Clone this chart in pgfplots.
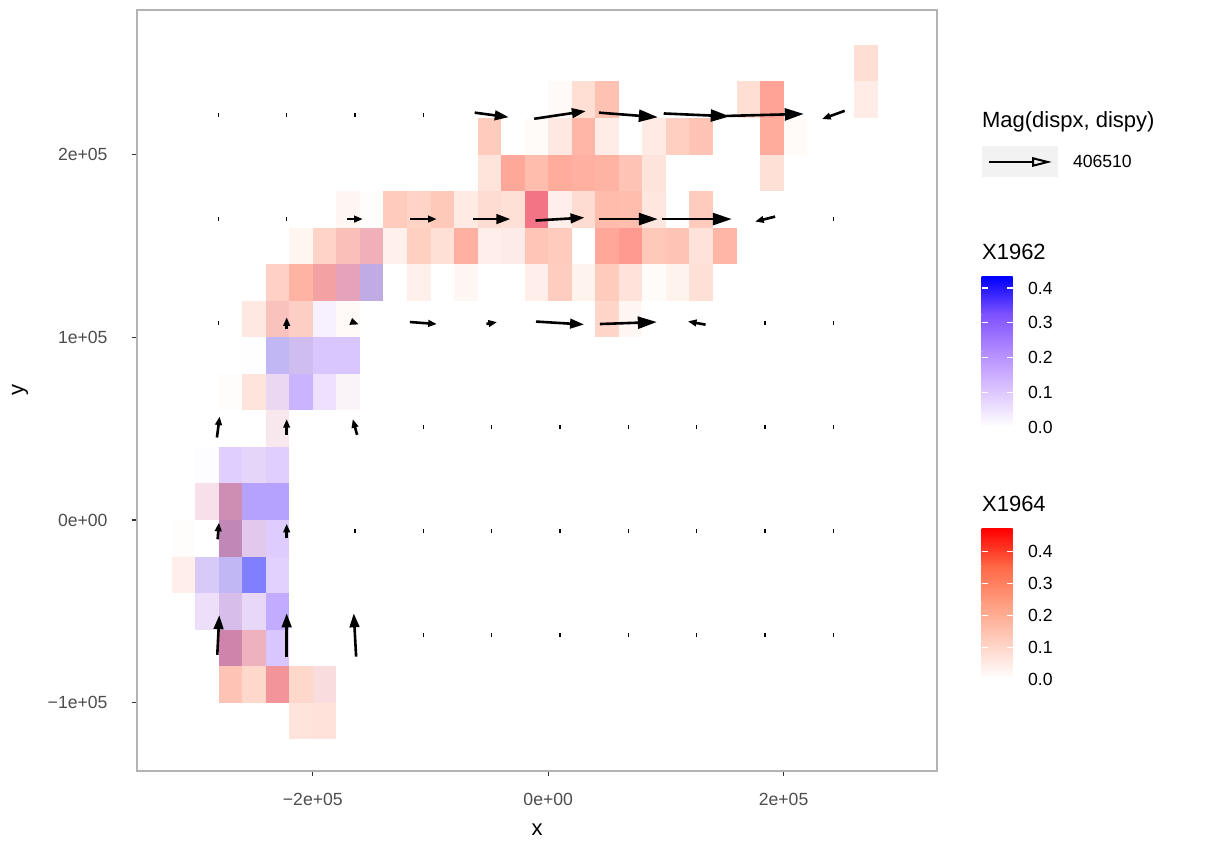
\documentclass[border=0pt]{standalone}
\usepackage{fontspec}
\setmainfont{Liberation Sans}
\usepackage{pgfplots}
\usepackage{pgfplotstable}
\pgfplotsset{compat=1.18}
\usetikzlibrary{arrows.meta}
\definecolor{gray30}{HTML}{4D4D4D}
\definecolor{gray20}{HTML}{333333}
\definecolor{gray70}{HTML}{B3B3B3}
\definecolor{keybg}{HTML}{F2F2F2}
\definecolor{b0}{RGB}{255,255,255}
\definecolor{b1}{RGB}{220,196,255}
\definecolor{b2}{RGB}{179,139,255}
\definecolor{b3}{RGB}{126,82,255}
\definecolor{b4}{RGB}{0,0,255}
\definecolor{r1}{RGB}{255,207,191}
\definecolor{r2}{RGB}{255,158,129}
\definecolor{r3}{RGB}{255,104,70}
\definecolor{r4}{RGB}{255,0,0}
\pgfplotsset{
  colormap={blues}{rgb255=(255,255,255) rgb255=(220,196,255) rgb255=(179,139,255) rgb255=(126,82,255) rgb255=(0,0,255)},
  colormap={reds}{rgb255=(255,255,255) rgb255=(255,207,191) rgb255=(255,158,129) rgb255=(255,104,70) rgb255=(255,0,0)},
  cbar/.style={anchor=south west, scale only axis, width=15.5pt, height=75pt,
    xmin=0, xmax=1, ymin=0, enlargelimits=false,
    axis line style={draw=none}, xtick=\empty, axis on top,
    ytick={0,0.1,0.2,0.3,0.4}, yticklabels={0.0,0.1,0.2,0.3,0.4},
    tick align=inside, ytick pos=both, yticklabel pos=right, major tick length=3.1pt,
    ytick style={draw=white, line width=0.6pt},
    yticklabel style={font=\fontsize{8.8}{10}\selectfont, text=black, xshift=4.2pt}},
}
\pgfdeclareplotmark{tile}{%
  \pgfpathrectangle{\pgfqpoint{-5.885pt}{-9.135pt}}{\pgfqpoint{11.77pt}{18.27pt}}%
  \pgfusepathqfill}

\pgfplotstableread{
x y b
-10000 170000 0.15
-170000 150000 0.05
-150000 150000 0.18
-30000 150000 0.02
-190000 130000 0.14
-170000 130000 0.28
-150000 130000 0.43
-230000 110000 0.06
-210000 110000 0.02
-190000 110000 0.05
-250000 90000 0.005
-230000 90000 0.43
-210000 90000 0.38
-190000 90000 0.21
-170000 90000 0.21
-230000 70000 0.22
-210000 70000 0.28
-190000 70000 0.11
-170000 70000 0.05
-230000 50000 0.08
-290000 30000 0.01
-270000 30000 0.18
-250000 30000 0.27
-230000 30000 0.18
-290000 10000 0.10
-270000 10000 0.38
-250000 10000 0.34
-230000 10000 0.34
-270000 -10000 0.43
-250000 -10000 0.30
-230000 -10000 0.19
-290000 -30000 0.35
-270000 -30000 0.43
-250000 -30000 0.432
-230000 -30000 0.17
-290000 -50000 0.20
-270000 -50000 0.35
-250000 -50000 0.25
-230000 -50000 0.31
-270000 -70000 0.38
-250000 -70000 0.20
-230000 -70000 0.21
-230000 -90000 0.14
-190000 -90000 0.07
}\bluetiles

\pgfplotstableread{
x y r
270000 250000 0.16
10000 230000 0.03
30000 230000 0.16
50000 230000 0.29
170000 230000 0.16
190000 230000 0.39
270000 230000 0.09
-50000 210000 0.25
-10000 210000 0.02
10000 210000 0.11
30000 210000 0.34
50000 210000 0.09
90000 210000 0.10
110000 210000 0.23
130000 210000 0.28
190000 210000 0.37
210000 210000 0.02
-50000 190000 0.13
-30000 190000 0.38
-10000 190000 0.31
10000 190000 0.37
30000 190000 0.36
50000 190000 0.35
70000 190000 0.28
90000 190000 0.13
190000 190000 0.15
-170000 170000 0.04
-150000 170000 0.01
-130000 170000 0.25
-110000 170000 0.21
-90000 170000 0.26
-70000 170000 0.10
-50000 170000 0.17
-30000 170000 0.15
-10000 170000 0.45
10000 170000 0.08
30000 170000 0.17
50000 170000 0.32
70000 170000 0.31
90000 170000 0.12
130000 170000 0.25
-210000 150000 0.05
-190000 150000 0.21
-170000 150000 0.27
-150000 150000 0.26
-130000 150000 0.07
-110000 150000 0.23
-90000 150000 0.15
-70000 150000 0.36
-50000 150000 0.08
-30000 150000 0.08
-10000 150000 0.27
10000 150000 0.25
50000 150000 0.38
70000 150000 0.41
90000 150000 0.26
110000 150000 0.28
130000 150000 0.14
150000 150000 0.34
-230000 130000 0.22
-210000 130000 0.35
-190000 130000 0.35
-170000 130000 0.26
-150000 130000 0.10
-110000 130000 0.07
-70000 130000 0.04
-10000 130000 0.08
10000 130000 0.24
30000 130000 0.06
50000 130000 0.25
70000 130000 0.14
90000 130000 0.02
110000 130000 0.06
130000 130000 0.15
-250000 110000 0.11
-230000 110000 0.25
-210000 110000 0.22
-170000 110000 0.03
50000 110000 0.20
70000 110000 0.04
-230000 90000 0.04
-210000 90000 0.06
-270000 70000 0.01
-250000 70000 0.13
-230000 70000 0.05
-170000 70000 0.02
-230000 50000 0.06
-250000 30000 0.02
-290000 10000 0.08
-270000 10000 0.28
-310000 -10000 0.01
-270000 -10000 0.27
-250000 -10000 0.07
-310000 -30000 0.08
-290000 -30000 0.02
-270000 -30000 0.04
-290000 -50000 0.02
-270000 -50000 0.08
-250000 -50000 0.03
-270000 -70000 0.32
-250000 -70000 0.24
-270000 -90000 0.28
-250000 -90000 0.19
-230000 -90000 0.38
-210000 -90000 0.19
-190000 -90000 0.12
-210000 -110000 0.13
-190000 -110000 0.14
}\redtiles

\pgfplotstableread{
x y u v
68100 221700 50100 -2500
126200 221700 56100 -1600
184300 221700 65700 1100
68100 164700 50100 0
126200 164700 59500 0
68100 107800 48400 1100
}\arrowsL

\pgfplotstableread{
x y u v
-48000 221700 28900 -2500
10050 221700 43900 4200
-48000 164700 31700 0
10050 164700 41600 1600
10050 107800 40800 -1600
-280300 -62940 1700 21700
-222200 -62940 0 23700
-164200 -62940 -2000 23700
}\arrowsM

\pgfplotstableread{
x y u v
242300 221700 -19200 -4500
-164200 164700 13300 0
-106100 164700 22700 0
184300 164700 -17000 -2700
-222200 107800 0 6300
-164200 107800 6500 -1600
-106100 107800 22900 -1100
-48000 107800 9000 1000
126200 107800 -15000 1800
-280300 50900 2300 11500
-222200 50900 0 8600
-164200 50900 -3700 8600
-280300 -6020 1100 9100
-222200 -6020 0 7900
}\arrowsS

\pgfplotstableread{
x y
-280300 221700
-222200 221700
-164200 221700
-106100 221700
-280300 164700
-222200 164700
242300 164700
-280300 107800
184300 107800
242300 107800
-106100 50900
-48000 50900
10050 50900
68100 50900
126200 50900
184300 50900
242300 50900
-164200 -6020
-106100 -6020
-48000 -6020
10050 -6020
68100 -6020
126200 -6020
184300 -6020
242300 -6020
-106100 -62940
-48000 -62940
10050 -62940
68100 -62940
126200 -62940
184300 -62940
242300 -62940
}\dots

\begin{document}
\begin{tikzpicture}
\path (0,0) rectangle (613pt,420.5pt);
\begin{axis}[
  set layers=standard,
  at={(68.5pt,35pt)}, anchor=south west,
  scale only axis, width=400pt, height=380.5pt,
  xmin=-349363, xmax=330331, ymin=-137384, ymax=279146,
  xtick={-200000,0,200000}, xticklabels={−2e+05,0e+00,2e+05},
  ytick={-100000,0,100000,200000}, yticklabels={−1e+05,0e+00,1e+05,2e+05},
  scaled ticks=false,
  axis line style={draw=gray70, line width=0.6pt},
  tick align=outside, major tick length=2.75pt,
  tick style={draw=gray20, line width=0.55pt},
  tick pos=left,
  ticklabel style={font=\fontsize{8.8}{10}\selectfont, text=gray30},
  xticklabel style={yshift=-5pt},
  yticklabel style={xshift=-8.5pt},
  xlabel={x}, ylabel={y},
  label style={font=\fontsize{11}{13}\selectfont},
  xlabel style={at={(axis description cs:0.5,-0.0775)}, anchor=center},
  ylabel style={at={(axis description cs:-0.14625,0.5)}, anchor=center},
  point meta min=0, point meta max=1,
]
\addplot[scatter, only marks, mark=tile, colormap name=blues,
  point meta={\thisrow{b}/0.432}, fill opacity=0.5] table {\bluetiles};
\addplot[scatter, only marks, mark=tile, colormap name=reds,
  point meta={\thisrow{r}/0.471}, fill opacity=0.5] table {\redtiles};
\addplot[on layer=axis foreground, only marks, mark=|, mark size=0.9pt, black, mark options={line width=0.7pt}] table {\dots};
\addplot[on layer=axis foreground, black, line width=1.3pt,
  quiver={u=\thisrow{u}, v=\thisrow{v},
    every arrow/.append style={-{Triangle[length=9.5pt,width=6pt]}}}]
  table[x expr=\thisrow{x}-0.5*\thisrow{u}, y expr=\thisrow{y}-0.5*\thisrow{v}] {\arrowsL};
\addplot[on layer=axis foreground, black, line width=1.3pt,
  quiver={u=\thisrow{u}, v=\thisrow{v},
    every arrow/.append style={-{Triangle[length=7pt,width=4.8pt]}}}]
  table[x expr=\thisrow{x}-0.5*\thisrow{u}, y expr=\thisrow{y}-0.5*\thisrow{v}] {\arrowsM};
\addplot[on layer=axis foreground, black, line width=1.3pt,
  quiver={u=\thisrow{u}, v=\thisrow{v},
    every arrow/.append style={-{Triangle[length=4.3pt,width=3.3pt]}}}]
  table[x expr=\thisrow{x}-0.5*\thisrow{u}, y expr=\thisrow{y}-0.5*\thisrow{v}] {\arrowsS};
\end{axis}

% arrow legend
\node[anchor=base west, font=\fontsize{11}{13}\selectfont, inner sep=0pt] at (490.85pt,356.65pt) {Mag(dispx, dispy)};
\fill[keybg] (490.85pt,332.15pt) rectangle (528.85pt,347.5pt);
\draw[line width=1pt, -{Triangle[open, length=10pt, width=4.7pt]}] (494.5pt,339.5pt) -- (526pt,339.5pt);
\node[anchor=west, font=\fontsize{8.8}{10}\selectfont, inner sep=0pt] at (536.3pt,339.65pt) {406510};

% colour bar X1962
\node[anchor=base west, font=\fontsize{11}{13}\selectfont, inner sep=0pt] at (490.85pt,290.5pt) {X1962};
\begin{axis}[cbar, at={(490.85pt,207pt)}, ymax=0.432]
\shade[bottom color=b0, top color=b1] (axis cs:0,0) rectangle (axis cs:1,0.108);
\shade[bottom color=b1, top color=b2] (axis cs:0,0.108) rectangle (axis cs:1,0.216);
\shade[bottom color=b2, top color=b3] (axis cs:0,0.216) rectangle (axis cs:1,0.324);
\shade[bottom color=b3, top color=b4] (axis cs:0,0.324) rectangle (axis cs:1,0.432);
\end{axis}

% colour bar X1964
\node[anchor=base west, font=\fontsize{11}{13}\selectfont, inner sep=0pt] at (490.85pt,164.65pt) {X1964};
\begin{axis}[cbar, at={(490.85pt,81pt)}, ymax=0.471]
\shade[bottom color=b0, top color=r1] (axis cs:0,0) rectangle (axis cs:1,0.11775);
\shade[bottom color=r1, top color=r2] (axis cs:0,0.11775) rectangle (axis cs:1,0.2355);
\shade[bottom color=r2, top color=r3] (axis cs:0,0.2355) rectangle (axis cs:1,0.35325);
\shade[bottom color=r3, top color=r4] (axis cs:0,0.35325) rectangle (axis cs:1,0.471);
\end{axis}
\end{tikzpicture}
\end{document}
